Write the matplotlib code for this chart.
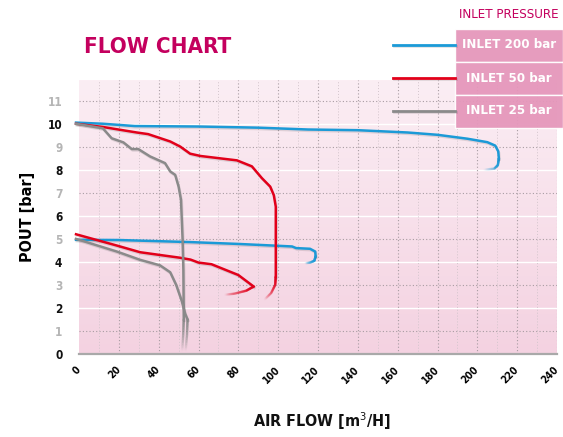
import matplotlib
matplotlib.use("Agg")
import matplotlib.pyplot as plt
import matplotlib.patheffects as pe
from matplotlib.collections import LineCollection
from matplotlib.lines import Line2D
from matplotlib.patches import Rectangle
from matplotlib.colors import to_rgba
import numpy as np

# --- data (air flow m3/h, outlet pressure bar) ---
flow_200_hi = [-1.5, 12, 28, 60, 90, 115, 140, 165, 180, 195, 205, 209, 210.5, 210.8]
pout_200_hi = [10.05, 10.0, 9.9, 9.88, 9.83, 9.75, 9.72, 9.62, 9.52, 9.35, 9.2, 9.05, 8.8, 8.5]
flow_200_hi_tail = [210.8, 210.3, 208.5, 203]
pout_200_hi_tail = [8.5, 8.2, 8.05, 8.0]

flow_200_lo = [-1.5, 20, 56, 80, 97.5, 107, 109, 116, 118.6, 118.8]
pout_200_lo = [4.96, 4.95, 4.86, 4.78, 4.71, 4.67, 4.6, 4.57, 4.45, 4.25]
flow_200_lo_tail = [118.8, 118.2, 116, 113.5]
pout_200_lo_tail = [4.25, 4.05, 3.97, 3.94]

flow_50_hi = [-1.5, 12, 29, 34.7, 45.8, 50.8, 55.8, 61, 79.3, 86.8, 91.8, 96, 97.8, 98.8, 98.8]
pout_50_hi = [10.0, 9.86, 9.62, 9.55, 9.23, 9.01, 8.7, 8.6, 8.41, 8.15, 7.64, 7.27, 6.9, 6.4, 3.36]
flow_50_hi_tail = [98.8, 98.5, 96.5, 93]
pout_50_hi_tail = [3.36, 3.0, 2.65, 2.35]

flow_50_lo = [-1.5, 19, 30.7, 40.7, 50.8, 56, 60, 66.5, 80, 87.7]
pout_50_lo = [5.2, 4.71, 4.42, 4.3, 4.18, 4.1, 3.97, 3.9, 3.43, 2.93]
flow_50_lo_tail = [87.7, 84, 78, 73]
pout_50_lo_tail = [2.93, 2.75, 2.62, 2.57]

flow_25_hi = [-1.5, 12, 16.4, 22.3, 26.5, 29.8, 35.7, 43.2, 45.8, 48.3, 50, 51.2, 52, 52.4, 52.6]
pout_25_hi = [10.0, 9.8, 9.37, 9.19, 8.9, 8.9, 8.58, 8.29, 7.93, 7.78, 7.27, 6.7, 5.0, 3.65, 1.5]
flow_25_hi_tail = [52.6, 52.3, 51.8]
pout_25_hi_tail = [1.5, 0.8, 0.1]

flow_25_lo = [-1.5, 19, 30.7, 40.7, 45.8, 48.8, 51.6, 53.3, 54.5]
pout_25_lo = [5.0, 4.45, 4.09, 3.85, 3.55, 3.0, 2.3, 1.75, 1.5]
flow_25_lo_tail = [54.5, 54.2, 53.5]
pout_25_lo_tail = [1.5, 0.8, 0.1]

series_labels = ["INLET 200 bar", "INLET 50 bar", "INLET 25 bar"]
series_colors = ["#1b9ad7", "#e2001a", "#8a8a8a"]

x_ticks = list(range(0, 241, 20))
y_ticks = list(range(0, 12))

plt.rcParams["font.family"] = ["DejaVu Sans"]
plt.rcParams["font.stretch"] = "condensed"

W, H = 563, 437
fig = plt.figure(figsize=(W / 100, H / 100), dpi=100)
ax = fig.add_axes([79 / W, 1 - 354 / H, (557 - 79) / W, (354 - 80) / H])
ax.set_xlim(0, 240)
ax.set_ylim(0, 11.9)

# pink vertical gradient background
grad = np.linspace(0, 1, 256).reshape(-1, 1)
top_c = np.array(to_rgba("#fbeef4"))
bot_c = np.array(to_rgba("#f4d2e1"))
img = top_c * (1 - grad[..., None]) + bot_c * grad[..., None]
ax.imshow(img, extent=[0, 240, 0, 11.9], aspect="auto", origin="upper", zorder=0)

# grid: dotted at odd bars and every 20 m3/h, white at even bars
for v in range(1, 12, 2):
    ax.axhline(v, color="#a89ca2", lw=0.8, ls=(0, (1, 2)), zorder=1)
for v in range(2, 12, 2):
    ax.axhline(v, color="white", lw=1.0, zorder=1)
for v in range(10, 240, 20):
    ax.axvline(v, color="#d3c5cc", lw=0.7, ls=(0, (1, 2)), zorder=1)
for v in range(20, 241, 20):
    ax.axvline(v, color="#a89ca2", lw=0.8, ls=(0, (1, 2)), zorder=1)

shadow = [pe.SimpleLineShadow(offset=(0.6, -1.0), alpha=0.15, shadow_color="#444"), pe.Normal()]


def fade_tail(xs, ys, color):
    pts = []
    for i in range(len(xs) - 1):
        t = np.linspace(0, 1, 10, endpoint=False)
        pts += list(zip(xs[i] + (xs[i + 1] - xs[i]) * t, ys[i] + (ys[i + 1] - ys[i]) * t))
    pts.append((xs[-1], ys[-1]))
    pts = np.array(pts)
    segs = np.stack([pts[:-1], pts[1:]], axis=1)
    rgba = np.tile(to_rgba(color), (len(segs), 1))
    rgba[:, 3] = np.linspace(0.7, 0.0, len(segs))
    ax.add_collection(LineCollection(segs, colors=rgba, linewidths=1.8,
                                     capstyle="round", zorder=3))


curves = [
    (flow_200_hi, pout_200_hi, flow_200_hi_tail, pout_200_hi_tail, 0),
    (flow_200_lo, pout_200_lo, flow_200_lo_tail, pout_200_lo_tail, 0),
    (flow_50_hi, pout_50_hi, flow_50_hi_tail, pout_50_hi_tail, 1),
    (flow_50_lo, pout_50_lo, flow_50_lo_tail, pout_50_lo_tail, 1),
    (flow_25_hi, pout_25_hi, flow_25_hi_tail, pout_25_hi_tail, 2),
    (flow_25_lo, pout_25_lo, flow_25_lo_tail, pout_25_lo_tail, 2),
]
for fx, py, tx, ty, k in curves:
    fade_tail(tx, ty, series_colors[k])
    ax.plot(fx, py, color=series_colors[k], lw=1.8, solid_joinstyle="round",
            clip_on=False, zorder=4, path_effects=shadow)

# axes styling
for s in ["top", "right", "left"]:
    ax.spines[s].set_visible(False)
ax.spines["bottom"].set_color("#a9a9a9")
ax.spines["bottom"].set_linewidth(1.6)
ax.set_xticks(x_ticks)
ax.set_xticklabels([str(v) for v in x_ticks], rotation=45, ha="right", va="center",
                   rotation_mode="anchor", fontsize=7.5, fontweight="bold")
ax.set_yticks(y_ticks)
ax.set_yticklabels([str(v) for v in y_ticks], fontsize=8.5, fontweight="bold")
for v, lab in zip(y_ticks, ax.get_yticklabels()):
    lab.set_color("#111" if v % 2 == 0 else "#b5b5b5")
ax.tick_params(axis="x", length=0, pad=10)
ax.tick_params(axis="y", length=0, pad=12)

ax.set_ylabel("POUT [bar]", fontsize=11.5, fontweight="bold", labelpad=9)
fig.text(322 / W, 1 - 421 / H, "AIR FLOW [m$^3$/H]", ha="center", va="center",
         fontsize=11.5, fontweight="bold", color="#111")
fig.text(84 / W, 1 - 47 / H, "FLOW CHART", ha="left", va="center",
         fontsize=16, fontweight="bold", color="#c4005e")

# legend: coloured lines leading into pink boxes
fig.text(509 / W, 1 - 14 / H, "INLET PRESSURE", ha="center", va="center",
         fontsize=9.5, color="#c4005e")
box_tops = [29, 62, 95]
for top, lab, col in zip(box_tops, series_labels, series_colors):
    fig.add_artist(Rectangle((455 / W, 1 - (top + 33) / H), 108 / W, 33 / H,
                             transform=fig.transFigure, facecolor="#e597bb",
                             edgecolor="white", lw=1, alpha=0.95, zorder=10))
    yc = 1 - (top + 16) / H
    fig.add_artist(Line2D([393 / W, 455 / W], [yc, yc], transform=fig.transFigure,
                          color=col, lw=2.0, zorder=10, path_effects=shadow))
    fig.text(509 / W, yc, lab, ha="center", va="center", fontsize=9.5,
             fontweight="bold", color="white", zorder=11)

fig.savefig("out.png", dpi=100)
